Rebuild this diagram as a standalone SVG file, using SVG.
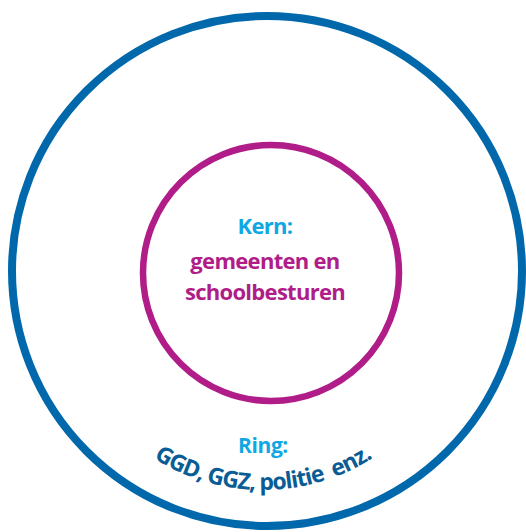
<svg xmlns="http://www.w3.org/2000/svg" xmlns:xlink="http://www.w3.org/1999/xlink" width="526" height="532" viewBox="0 0 526 532">
  <style>
    .ring { fill: none; stroke: #0068ab; stroke-width: 8; }
    .kern { fill: none; stroke: #b01c88; stroke-width: 6.5; }
    .lbl { font-family: "Open Sans", "Liberation Sans", sans-serif; font-weight: bold; font-size: 22px; letter-spacing: -0.7px; text-anchor: middle; }
    .arc { font-size: 23px; letter-spacing: -1px; }
    .light { fill: #10a8e3; }
    .purple { fill: #b01c88; }
    .dark { fill: #0a5d94; }
  </style>
  <defs>
    <path id="arc" d="M 126.5 437.6 A 204 204 0 0 0 399.5 437.6"/>
  </defs>
  <rect width="526" height="532" fill="#ffffff"/>
  <g id="ring">
    <circle class="ring" cx="267" cy="271" r="255"/>
    <text class="lbl light" x="263" y="453" style="font-size:21px;letter-spacing:-0.4px">Ring:</text>
    <text class="lbl arc dark"><textPath xlink:href="#arc" href="#arc" startOffset="50%" xml:space="preserve">GGD, GGZ, politie  enz.</textPath></text>
  </g>
  <g id="kern">
    <circle class="kern" cx="271" cy="273" r="128"/>
    <text class="lbl light" x="265" y="234">Kern:</text>
    <text class="lbl purple" x="265" y="269">gemeenten en</text>
    <text class="lbl purple" x="265" y="300">schoolbesturen</text>
  </g>
</svg>
